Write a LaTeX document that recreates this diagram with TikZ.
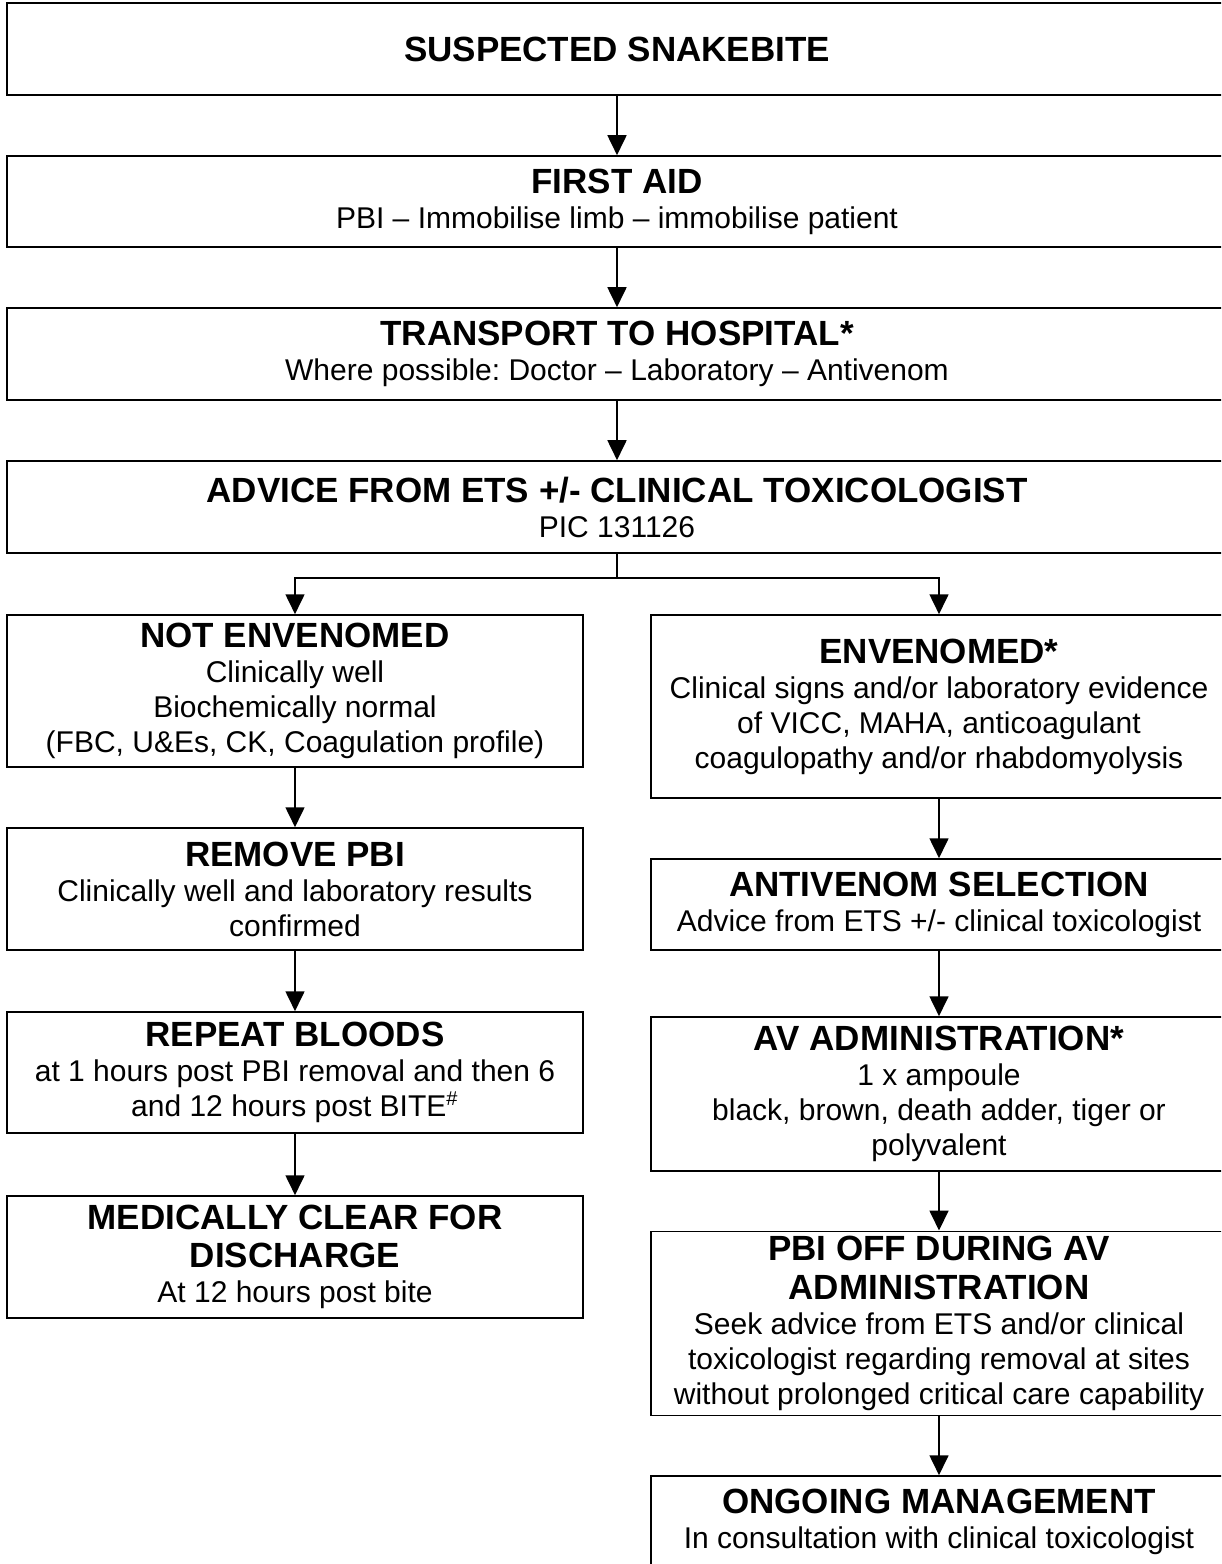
\documentclass[tikz,border=0pt]{standalone}
\usepackage{fontspec}
\setmainfont{Liberation Sans}
\usetikzlibrary{arrows.meta}
\newcommand{\hd}[1]{{\fontsize{14}{16}\selectfont\bfseries #1}}
\frenchspacing

\begin{document}
\begin{tikzpicture}[x=0.4pt, y=-0.4pt, line width=0.6pt,
  box/.style={draw, rectangle, align=center, inner sep=2pt, font=\fontsize{12}{14}\selectfont},
  wide/.style={box, minimum width=488pt},
  half/.style={box, minimum width=230.4pt},
  arr/.style={-{Triangle[length=8pt,width=7.5pt]}, line width=1pt}]
\clip (0,0) rectangle (1221,1564);
% main trunk
\node [wide, minimum height=36.8pt] (snake) at (617,49) {\hd{SUSPECTED SNAKEBITE}};
\node [wide, minimum height=36.4pt] (aid) at (617,201.5) {\hd{FIRST AID}\\PBI -- Immobilise limb -- immobilise patient};
\node [wide, minimum height=36.8pt] (transport) at (617,354) {\hd{TRANSPORT TO HOSPITAL*}\\Where possible: Doctor -- Laboratory -- Antivenom};
\node [wide, minimum height=36.8pt] (advice) at (617,507) {\hd{ADVICE FROM ETS +/- CLINICAL TOXICOLOGIST}\\PIC 131126};
% not envenomed
\node [half, minimum height=60.8pt] (notenv) at (295,691) {\hd{NOT ENVENOMED}\\Clinically well\\Biochemically normal\\(FBC, U\&Es, CK, Coagulation profile)};
\node [half, minimum height=48.8pt] (remove) at (295,889) {\hd{REMOVE PBI}\\Clinically well and laboratory results\\confirmed};
\node [half, minimum height=48.4pt] (repeat) at (295,1072.5) {\hd{REPEAT BLOODS}\\at 1 hours post PBI removal and then 6\\and 12 hours post BITE\textsuperscript{\#}};
\node [half, minimum height=48.8pt] (clear) at (295,1257) {\hd{MEDICALLY CLEAR FOR}\\[1.5pt]\hd{DISCHARGE}\\At 12 hours post bite};
% envenomed
\node [half, minimum height=73.2pt] (env) at (939,706.5) {\hd{ENVENOMED*}\\Clinical signs and/or laboratory evidence\\of VICC, MAHA, anticoagulant\\coagulopathy and/or rhabdomyolysis};
\node [half, minimum height=36.4pt] (avsel) at (939,904.5) {\hd{ANTIVENOM SELECTION}\\Advice from ETS +/- clinical toxicologist};
\node [half, minimum height=61.6pt] (avadmin) at (939,1094) {\hd{AV ADMINISTRATION*}\\1 x ampoule\\black, brown, death adder, tiger or\\polyvalent};
\node [half, minimum height=73.2pt] (pbioff) at (939,1323.5) {\hd{PBI OFF DURING AV}\\[1.5pt]\hd{ADMINISTRATION}\\Seek advice from ETS and/or clinical\\toxicologist regarding removal at sites\\without prolonged critical care capability};
\node [half, minimum height=36.8pt] (ongoing) at (939,1522) {\hd{ONGOING MANAGEMENT}\\In consultation with clinical toxicologist};
\coordinate (split) at (617,578);
\draw [arr] (snake.south) -- (aid.north);
\draw [arr] (aid.south) -- (transport.north);
\draw [arr] (transport.south) -- (advice.north);
\draw [line width=1pt] (advice.south) -- (split);
\draw [arr] (split) -| (notenv.north);
\draw [arr] (split) -| (env.north);
\draw [arr] (notenv.south) -- (remove.north);
\draw [arr] (remove.south) -- (repeat.north);
\draw [arr] (repeat.south) -- (clear.north);
\draw [arr] (env.south) -- (avsel.north);
\draw [arr] (avsel.south) -- (avadmin.north);
\draw [arr] (avadmin.south) -- (pbioff.north);
\draw [arr] (pbioff.south) -- (ongoing.north);
\end{tikzpicture}
\end{document}
